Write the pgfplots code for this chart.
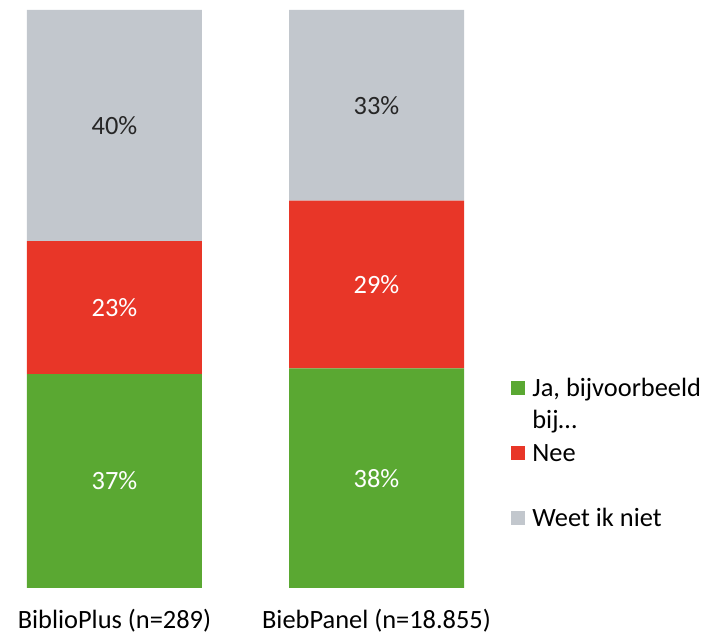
\documentclass[border=0pt]{standalone}
\usepackage{fontspec}
\setmainfont{Carlito}
\usepackage{pgfplots}
\pgfplotsset{compat=1.18}
\definecolor{jagreen}{RGB}{90,168,50}
\definecolor{neered}{RGB}{232,54,40}
\definecolor{weetgrey}{RGB}{194,199,205}

\pgfplotsset{
  frame/.style={
    scale only axis,
    width=360pt, height=294pt,
    xmin=-0.437, xmax=2.311,
    ymin=0, ymax=101.73,
    font=\fontsize{13.2}{16}\selectfont,
  }
}

\begin{document}
\begin{tikzpicture}
  % picture frame: 720 x 635 px at 0.5pt per px
  \useasboundingbox (0,-23.5pt) rectangle (360pt,294pt);
  \begin{axis}[
      frame,
      ybar stacked,
      bar width=87.5pt,
      axis line style={draw=none},
      major tick length=0pt,
      ytick=\empty,
      xtick={0,1},
      xticklabels={BiblioPlus (n=289), BiebPanel (n=18.855)},
      xticklabel style={anchor=base, yshift=-20.5pt},
      % one legend row = one text line of 16.25pt
      legend style={draw=none, fill=none, at={(0.7097,0.3654)}, anchor=north west,
        inner sep=0pt, row sep=0pt, column sep=3.5pt,
        cells={anchor=base west},
        nodes={inner sep=0pt, text height=11.375pt, text depth=4.875pt}},
      legend image code/.code={\fill[#1] (0pt,0.5pt) rectangle (7pt,7.5pt);},
  ]
    \addplot[draw=none, fill=jagreen] coordinates {(0,37) (1,38)};
    \addlegendentry{Ja, bijvoorbeeld}
    \addlegendimage{empty legend}
    \addlegendentry{bij…}
    \addplot[draw=none, fill=neered] coordinates {(0,23) (1,29)};
    \addlegendentry{Nee}
    \addlegendimage{empty legend}
    \addlegendentry{}
    \addplot[draw=none, fill=weetgrey] coordinates {(0,40) (1,33)};
    \addlegendentry{Weet ik niet}
  \end{axis}

  % value labels at segment centres (same frame, no stacking)
  \begin{axis}[frame, hide axis]
    \addplot[draw=none, mark=none, nodes near coords, point meta=explicit symbolic,
      every node near coord/.style={anchor=center, text=white}]
      coordinates {(0,18.5)[37\%] (1,19)[38\%] (0,48.5)[23\%] (1,52.5)[29\%]};
    \addplot[draw=none, mark=none, nodes near coords, point meta=explicit symbolic,
      every node near coord/.style={anchor=center, text=black!85}]
      coordinates {(0,80)[40\%] (1,83.5)[33\%]};
  \end{axis}
\end{tikzpicture}
\end{document}
